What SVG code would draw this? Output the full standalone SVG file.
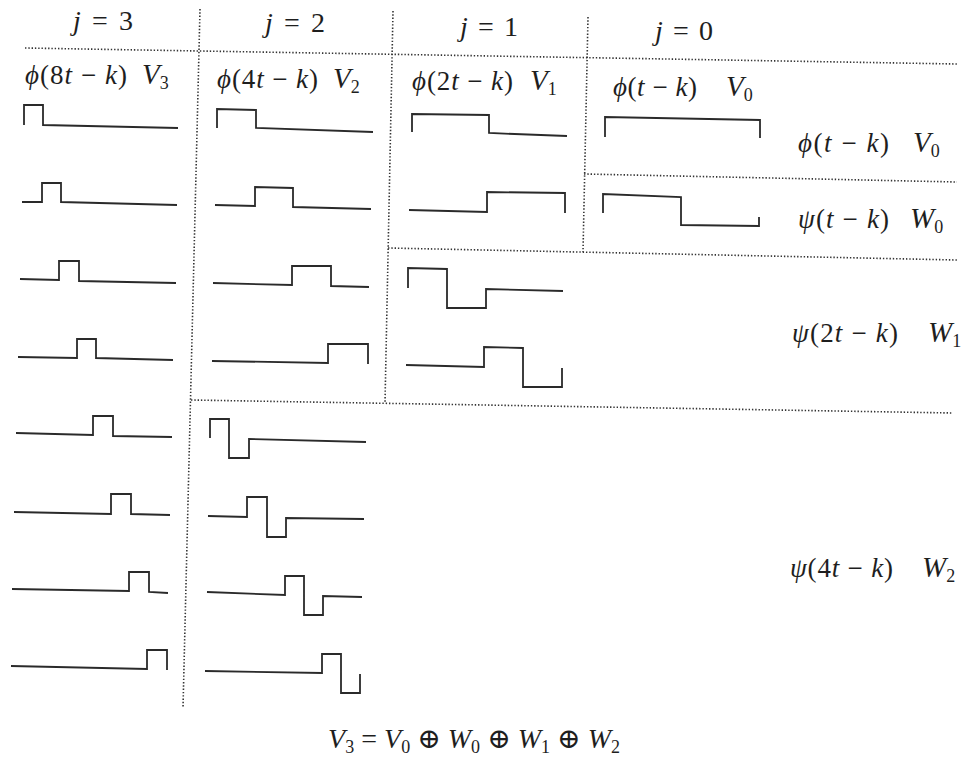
<svg xmlns="http://www.w3.org/2000/svg" width="966" height="757" viewBox="0 0 966 757">
<style>
  .bg { fill: #ffffff; }
  .grid { fill: none; stroke: #333; stroke-width: 1.6; stroke-dasharray: 1.4 1.9; }
  .wave { fill: none; stroke: #2a2a2a; stroke-width: 1.8; stroke-linejoin: miter; }
  text { font-family: "Liberation Serif", "DejaVu Serif", serif; fill: #1e1e1e; font-size: 27px; }
  .i { font-style: italic; }
  .cal { font-style: italic; font-size: 29px; }
  .sub { font-size: 18px; font-style: normal; }
  .hd { font-size: 28px; }
  .eq { font-size: 28px; }
</style>
<rect class="bg" x="0" y="0" width="966" height="757"/>

<g id="connectors">
  <path class="grid" d="M25,48 L957,64"/>
  <path class="grid" d="M200,9 L183,708"/>
  <path class="grid" d="M393,11 L385,403"/>
  <path class="grid" d="M588,17 L583,252"/>
  <path class="grid" d="M584,174 L957,182"/>
  <path class="grid" d="M388,248 L957,260"/>
  <path class="grid" d="M191,400 L953,413"/>
</g>

<g id="headers">
  <text class="hd" x="73" y="30" textLength="60" lengthAdjust="spacing"><tspan class="i">j</tspan> = 3</text>
  <text class="hd" x="265" y="32" textLength="60" lengthAdjust="spacing"><tspan class="i">j</tspan> = 2</text>
  <text class="hd" x="460" y="36" textLength="58" lengthAdjust="spacing"><tspan class="i">j</tspan> = 1</text>
  <text class="hd" x="655" y="40" textLength="58" lengthAdjust="spacing"><tspan class="i">j</tspan> = 0</text>
</g>

<g id="col-j3">
  <text x="25" y="84" textLength="102" lengthAdjust="spacing"><tspan class="i">ϕ</tspan>(8<tspan class="i">t</tspan> − <tspan class="i">k</tspan>)</text>
  <text x="142" y="84"><tspan class="cal">V</tspan><tspan class="sub" dy="5">3</tspan></text>
  <path class="wave" d="M24,125 L24,105 L43,105 L43,125 L178,128"/>
  <path class="wave" d="M22,202 L42,202 L42,183 L61,183 L61,202 L177,205"/>
  <path class="wave" d="M20,279 L59,280 L59,261 L79,261 L79,281 L176,283"/>
  <path class="wave" d="M18,357 L77,358 L77,339 L96,339 L96,358 L173,360"/>
  <path class="wave" d="M16,433 L93,435 L93,416 L113,416 L113,436 L172,437"/>
  <path class="wave" d="M14,512 L111,514 L111,494 L131,494 L131,514 L170,515"/>
  <path class="wave" d="M12,589 L129,591 L129,572 L149,572 L149,592 L168,593"/>
  <path class="wave" d="M11,666 L147,669 L147,650 L167,650 L167,670"/>
</g>

<g id="col-j2">
  <text x="217" y="88" textLength="101" lengthAdjust="spacing"><tspan class="i">ϕ</tspan>(4<tspan class="i">t</tspan> − <tspan class="i">k</tspan>)</text>
  <text x="333" y="88"><tspan class="cal">V</tspan><tspan class="sub" dy="5">2</tspan></text>
  <path class="wave" d="M217,128 L217,109 L256,110 L256,128 L373,132"/>
  <path class="wave" d="M215,205 L255,206 L255,187 L293,188 L293,207 L371,209"/>
  <path class="wave" d="M213,283 L292,285 L292,266 L331,266 L331,286 L369,287"/>
  <path class="wave" d="M212,361 L328,363 L328,344 L368,344 L368,364"/>
  <path class="wave" d="M210,438 L210,419 L229,419 L229,458 L249,458 L249,439 L366,442"/>
  <path class="wave" d="M208,516 L247,517 L247,497 L267,497 L267,537 L286,537 L286,518 L364,519"/>
  <path class="wave" d="M207,592 L285,595 L285,576 L304,576 L304,615 L323,615 L323,596 L362,597"/>
  <path class="wave" d="M205,671 L322,673 L322,654 L341,654 L341,693 L360,693 L360,674"/>
</g>

<g id="col-j1">
  <text x="412" y="90" textLength="101" lengthAdjust="spacing"><tspan class="i">ϕ</tspan>(2<tspan class="i">t</tspan> − <tspan class="i">k</tspan>)</text>
  <text x="530" y="90"><tspan class="cal">V</tspan><tspan class="sub" dy="5">1</tspan></text>
  <path class="wave" d="M412,132 L412,114 L489,115 L489,133 L567,136"/>
  <path class="wave" d="M409,210 L487,212 L487,192 L565,193 L565,213"/>
  <path class="wave" d="M408,288 L408,268 L447,269 L447,308 L486,308 L486,289 L563,291"/>
  <path class="wave" d="M406,365 L484,367 L484,347 L523,348 L523,387 L562,387 L562,368"/>
</g>

<g id="col-j0">
  <text x="613" y="96" textLength="84" lengthAdjust="spacing"><tspan class="i">ϕ</tspan>(<tspan class="i">t</tspan> − <tspan class="i">k</tspan>)</text>
  <text x="726" y="96"><tspan class="cal">V</tspan><tspan class="sub" dy="5">0</tspan></text>
  <path class="wave" d="M605,137 L605,117 L760,120 L760,138"/>
  <path class="wave" d="M603,213 L603,194 L681,197 L681,225 L759,226 L759,217"/>
</g>

<g id="row-labels">
  <text x="798" y="152" textLength="91" lengthAdjust="spacing"><tspan class="i">ϕ</tspan>(<tspan class="i">t</tspan> − <tspan class="i">k</tspan>)</text>
  <text x="913" y="152"><tspan class="cal">V</tspan><tspan class="sub" dy="5">0</tspan></text>
  <text x="798" y="228" textLength="91" lengthAdjust="spacing"><tspan class="i">ψ</tspan>(<tspan class="i">t</tspan> − <tspan class="i">k</tspan>)</text>
  <text x="910" y="228"><tspan class="cal">W</tspan><tspan class="sub" dy="5">0</tspan></text>
  <text x="792" y="342" textLength="106" lengthAdjust="spacing"><tspan class="i">ψ</tspan>(2<tspan class="i">t</tspan> − <tspan class="i">k</tspan>)</text>
  <text x="928" y="342"><tspan class="cal">W</tspan><tspan class="sub" dy="5">1</tspan></text>
  <text x="790" y="577" textLength="103" lengthAdjust="spacing"><tspan class="i">ψ</tspan>(4<tspan class="i">t</tspan> − <tspan class="i">k</tspan>)</text>
  <text x="922" y="577"><tspan class="cal">W</tspan><tspan class="sub" dy="5">2</tspan></text>
</g>

<g id="equation">
  <text class="eq" x="328" y="748" textLength="292" lengthAdjust="spacing"><tspan class="i">V</tspan><tspan class="sub" dy="5">3</tspan><tspan dy="-5"> = </tspan><tspan class="i">V</tspan><tspan class="sub" dy="5">0</tspan><tspan dy="-5"> ⊕ </tspan><tspan class="i">W</tspan><tspan class="sub" dy="5">0</tspan><tspan dy="-5"> ⊕ </tspan><tspan class="i">W</tspan><tspan class="sub" dy="5">1</tspan><tspan dy="-5"> ⊕ </tspan><tspan class="i">W</tspan><tspan class="sub" dy="5">2</tspan></text>
</g>
</svg>
